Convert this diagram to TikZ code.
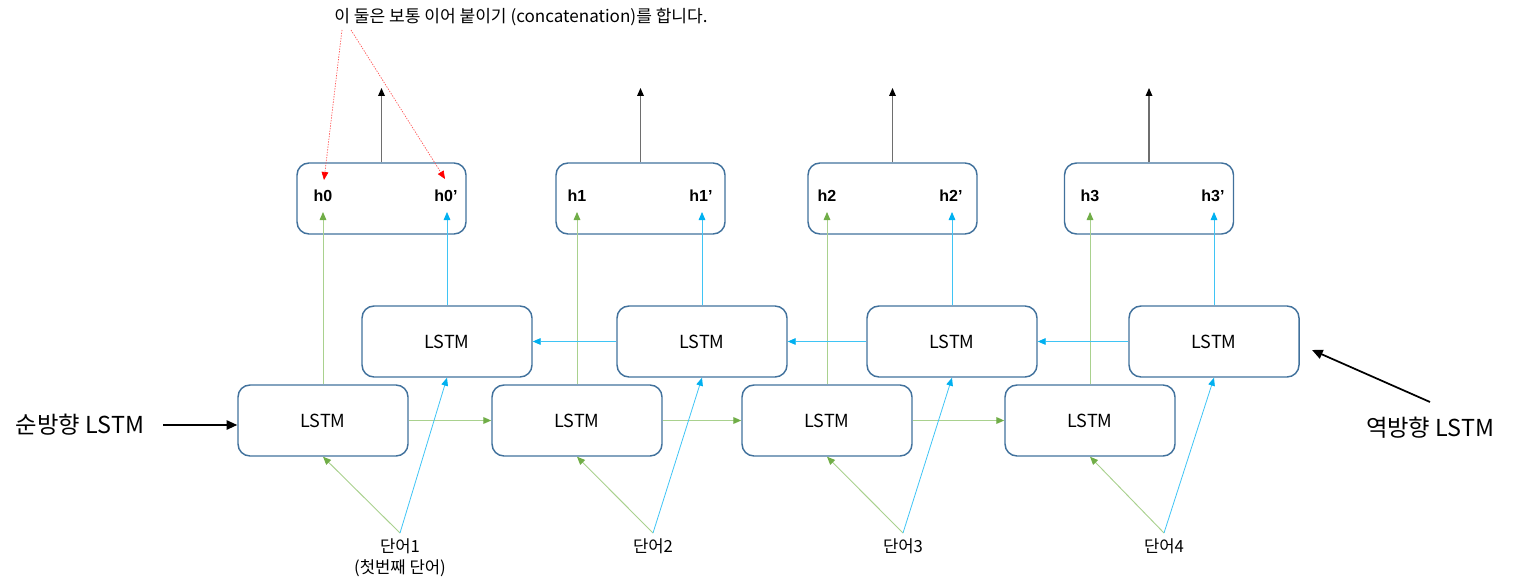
\documentclass[tikz,border=0pt]{standalone}
\usepackage{fontspec}
\setmainfont{Noto Sans CJK KR}
\newfontfamily\hfont{Liberation Sans}
\usetikzlibrary{arrows.meta}
\definecolor{boxc}{HTML}{41719C}
\definecolor{fgreen}{HTML}{70AD47}
\definecolor{lgreen}{HTML}{A9D18E}
\definecolor{bblue}{HTML}{00B0F0}
\definecolor{lblue}{HTML}{3FC4F5}
\definecolor{ogray}{HTML}{6E6E6E}
\definecolor{lred}{HTML}{FF5050}
\tikzset{
  lstm/.style={draw=boxc, line width=1.1pt, rounded corners=9pt, minimum width=127.5pt, minimum height=53.25pt, inner sep=0pt, font=\fontsize{13.5}{15}\selectfont},
  hbox/.style={draw=boxc, line width=1.1pt, rounded corners=9pt, minimum width=126.75pt, minimum height=53.25pt, inner sep=0pt},
  hlab/.style={font=\hfont\bfseries\fontsize{12}{14}\selectfont, inner sep=0pt},
  wlab/.style={font=\fontsize{12.5}{14}\selectfont, inner sep=0pt},
  garrow/.style={-{Triangle[length=6pt,width=5pt,color=fgreen]}, draw=lgreen, line width=0.7pt},
  harrow/.style={-{Triangle[length=6pt,width=5pt,color=fgreen]}, draw=lgreen, line width=1pt},
  barrow/.style={-{Triangle[length=6pt,width=5pt,color=bblue]}, draw=lblue, line width=0.6pt},
  oarrow/.style={-{Triangle[length=6pt,width=5pt,color=black]}, draw=ogray, line width=0.9pt},
  rarrow/.style={-{Triangle[length=6pt,width=5pt,color=red]}, draw=lred, line width=0.5pt, dash pattern=on 1pt off 1pt},
  karrow/.style={-{Triangle[length=8pt,width=7pt]}, draw=black, line width=1.3pt},
  side/.style={font=\fontsize{17.5}{20}\selectfont, inner sep=0pt},
}
\begin{document}
\begin{tikzpicture}[x=0.75pt,y=-0.75pt]
\path[use as bounding box] (0,0) rectangle (1513,588);

% forward LSTMs
\node[lstm] (f1) at (323,420.5) {LSTM};
\node[lstm] (f2) at (577,420.5) {LSTM};
\node[lstm] (f3) at (827,420.5) {LSTM};
\node[lstm] (f4) at (1090,420.5) {LSTM};
% backward LSTMs
\node[lstm] (b1) at (447,341.5) {LSTM};
\node[lstm] (b2) at (702,341.5) {LSTM};
\node[lstm] (b3) at (952,341.5) {LSTM};
\node[lstm] (b4) at (1214,341.5) {LSTM};
% h boxes
\node[hbox] (hb1) at (381.5,198.5) {};
\node[hbox] (hb2) at (640.5,198.5) {};
\node[hbox] (hb3) at (892.5,198.5) {};
\node[hbox] (hb4) at (1149,198.5) {};
\node[hlab] (h0) at (323,196) {h0};
\node[hlab] (h0p) at (446,196) {h0’};
\node[hlab] (h1) at (577,196) {h1};
\node[hlab] (h1p) at (701,196) {h1’};
\node[hlab] (h2) at (827,196) {h2};
\node[hlab] (h2p) at (951,196) {h2’};
\node[hlab] (h3) at (1090,196) {h3};
\node[hlab] (h3p) at (1213,196) {h3’};

% targets under h labels
\coordinate (t0) at (323,212);
\coordinate (t0p) at (447,212);
\coordinate (t1) at (577,212);
\coordinate (t1p) at (702,212);
\coordinate (t2) at (827,212);
\coordinate (t2p) at (952,212);
\coordinate (t3) at (1090,212);
\coordinate (t3p) at (1214,212);

\draw[garrow] (f1.north) -- (t0);
\draw[garrow] (f2.north) -- (t1);
\draw[garrow] (f3.north) -- (t2);
\draw[garrow] (f4.north) -- (t3);
\draw[barrow] (b1.north) -- (t0p);
\draw[barrow] (b2.north) -- (t1p);
\draw[barrow] (b3.north) -- (t2p);
\draw[barrow] (b4.north) -- (t3p);

% horizontal connections
\draw[harrow] (f1.east) -- (f2.west);
\draw[harrow] (f2.east) -- (f3.west);
\draw[harrow] (f3.east) -- (f4.west);
\draw[barrow] (b2.west) -- (b1.east);
\draw[barrow] (b3.west) -- (b2.east);
\draw[barrow] (b4.west) -- (b3.east);

% outputs
\coordinate (o1) at (381.5,88);
\coordinate (o2) at (640.5,88);
\coordinate (o3) at (892.5,88);
\coordinate (o4) at (1149,88);
\draw[oarrow] (hb1.north) -- (o1);
\draw[oarrow] (hb2.north) -- (o2);
\draw[oarrow] (hb3.north) -- (o3);
\draw[oarrow] (hb4.north) -- (o4);

% words
\node[wlab] (w1) at (400,546) {단어1};
\node[wlab] (w1b) at (400,568) {(첫번째 단어)};
\node[wlab] (w2) at (653,546) {단어2};
\node[wlab] (w3) at (903,546) {단어3};
\node[wlab] (w4) at (1164,546) {단어4};
\coordinate (s1) at (400,533);
\coordinate (s2) at (653,533);
\coordinate (s3) at (903,533);
\coordinate (s4) at (1164,533);
\draw[garrow] (s1) -- (f1.south);
\draw[garrow] (s2) -- (f2.south);
\draw[garrow] (s3) -- (f3.south);
\draw[garrow] (s4) -- (f4.south);
\draw[barrow] (s1) -- (b1.south);
\draw[barrow] (s2) -- (b2.south);
\draw[barrow] (s3) -- (b3.south);
\draw[barrow] (s4) -- (b4.south);

% top note
\node[font=\fontsize{12.8}{14}\selectfont, inner sep=0pt] (note) at (521,17) {이 둘은 보통 이어 붙이기 (concatenation)를 합니다.};
\coordinate (r1) at (342,30);
\coordinate (r2) at (351,30);
\coordinate (e1) at (324,180);
\coordinate (e2) at (445,179);
\draw[rarrow] (r1) -- (e1);
\draw[rarrow] (r2) -- (e2);

% side labels
\node[side] (fl) at (80,425) {순방향 LSTM};
\coordinate (la) at (163,425);
\draw[karrow] (la) -- (la -| f1.west);
\node[side] (bl) at (1430,428) {역방향 LSTM};
\coordinate (ra) at (1430,402);
\coordinate (rb) at (1312,350);
\draw[karrow] (ra) -- (rb);
\end{tikzpicture}
\end{document}
